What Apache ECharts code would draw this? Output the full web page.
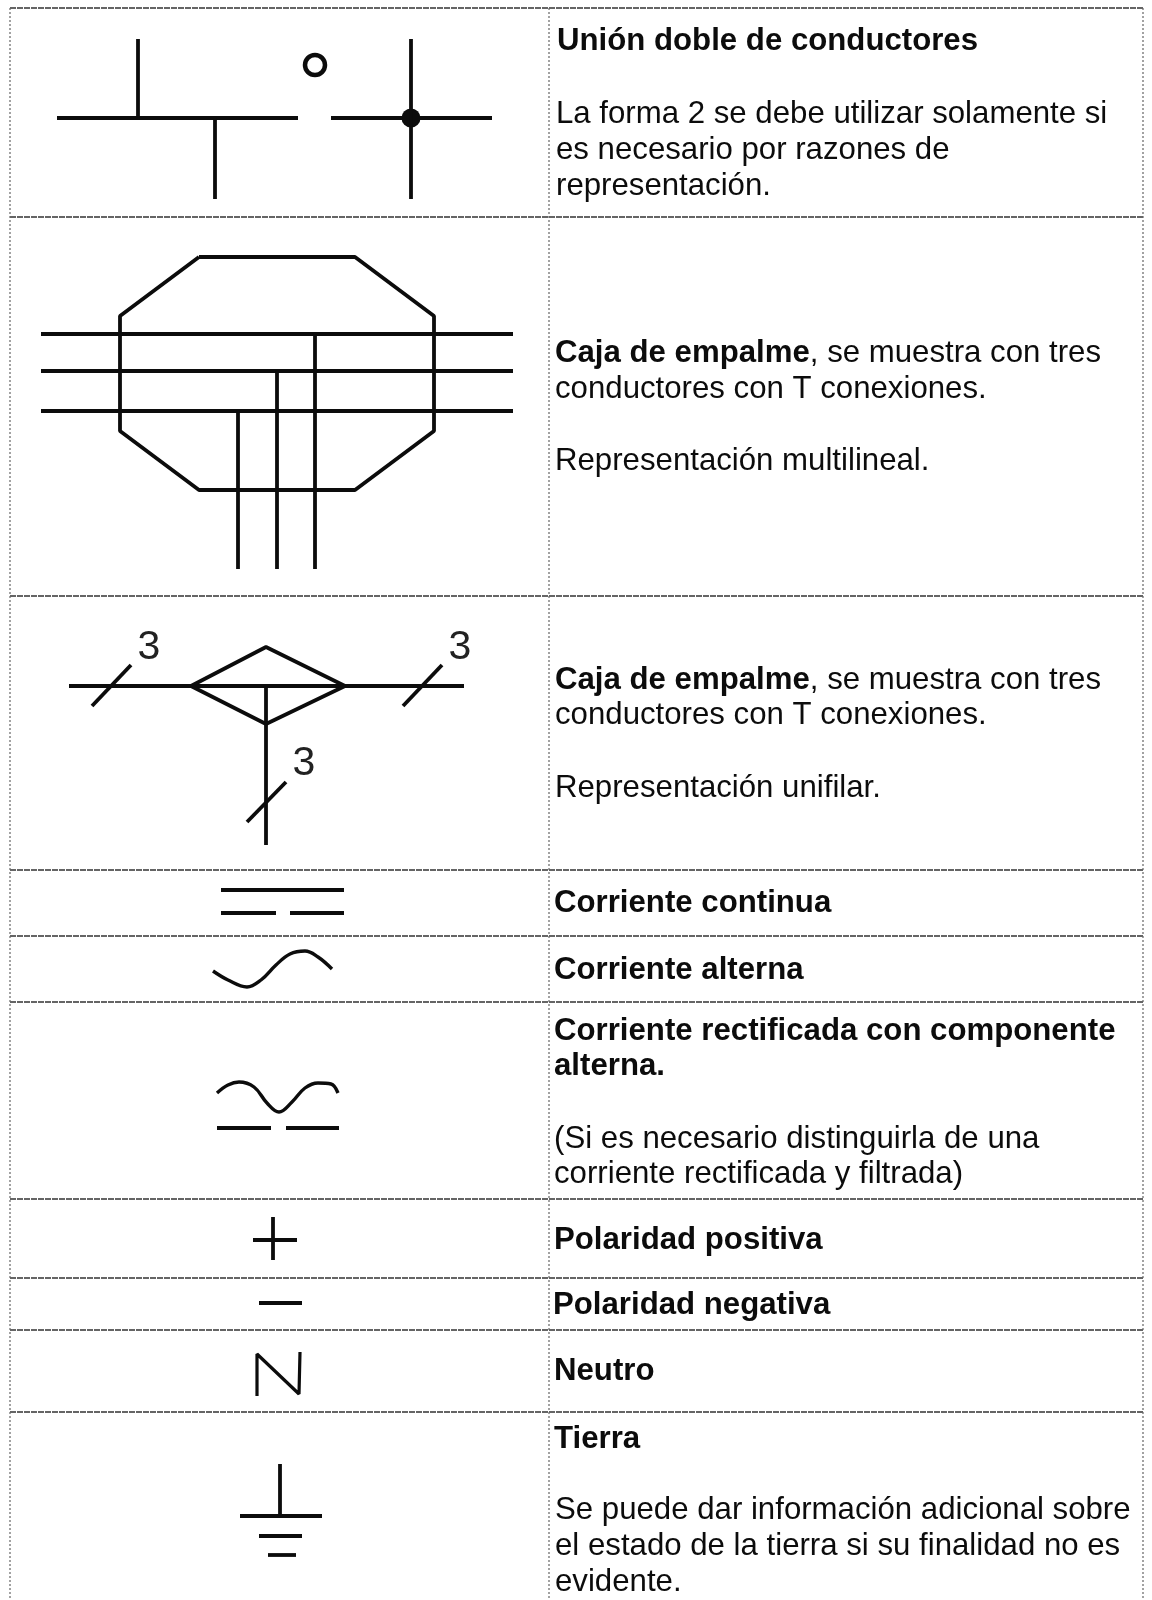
<!DOCTYPE html>
<html>
<head>
<meta charset="utf-8">
<style>
html, body { margin: 0; padding: 0; background: #fff; }
#main { width: 1152px; height: 1600px; }
</style>
<script src="https://cdn.jsdelivr.net/npm/echarts@6/dist/echarts.min.js"></script>
</head>
<body>
<div id="main"></div>
<script>
// table rules, in pixels of the page
const rowLines = [8, 217, 596, 870, 936, 1002, 1199, 1278, 1330, 1412]
const colLines = [10, 549, 1143]

// symbols: each entry is one stroke
const unionStrokes = [
  [[138, 39], [138, 118]],
  [[57, 118], [298, 118]],
  [[215, 118], [215, 199]],
  [[331, 118], [492, 118]],
  [[411, 39], [411, 199]]
]
const cajaStrokes = [
  [[199, 257], [355, 257], [434, 316], [434, 431], [355, 490], [199, 490], [120, 431], [120, 316], [199, 257]],
  [[41, 334], [513, 334]],
  [[41, 371], [513, 371]],
  [[41, 411], [513, 411]],
  [[315, 334], [315, 569]],
  [[277, 371], [277, 569]],
  [[238, 411], [238, 569]]
]
const unifilarStrokes = [
  [[69, 686], [464, 686]],
  [[191, 686], [266, 647], [345, 686], [266, 724], [191, 686]],
  [[266, 686], [266, 845]],
  [[92, 706], [131, 665]],
  [[403, 706], [442, 665]],
  [[247, 822], [286, 782]]
]
const continuaStrokes = [
  [[221, 890], [344, 890]],
  [[221, 913], [276, 913]],
  [[290, 913], [344, 913]]
]
const rectificadaBars = [
  [[217, 1128], [271, 1128]],
  [[286, 1128], [339, 1128]]
]
const polaridadStrokes = [
  [[253, 1240], [297, 1240]],
  [[273, 1217], [273, 1260]],
  [[259, 1303], [302, 1303]]
]
const neutroStrokes = [
  [[257, 1396], [257, 1354], [299, 1394], [300, 1352]]
]
const tierraStrokes = [
  [[280, 1464], [280, 1516]],
  [[240, 1516], [322, 1516]],
  [[259, 1536], [302, 1536]],
  [[268, 1555], [296, 1555]]
]
const alternaCurve = [[213, 971], [228, 980], [247, 987], [261, 980], [276, 965], [290, 954], [305, 951], [318, 957], [332, 969]]
const rectificadaCurve = [[217, 1093], [228, 1085], [239, 1082], [254, 1087], [267, 1103], [279, 1112], [292, 1102], [305, 1088], [318, 1083], [331, 1084], [338, 1093]]
const openNode = [[315, 65]]
const solidNode = [[411, 118]]

// the small 3 beside each slash
const threeLabels = [[149, 648], [460, 648], [304, 764]]

// text column
const textLines = [
  '{b|Unión doble de conductores}',
  'La forma 2 se debe utilizar solamente si',
  'es necesario por razones de',
  'representación.',
  '{b|Caja de empalme}, se muestra con tres',
  'conductores con T conexiones.',
  'Representación multilineal.',
  '{b|Caja de empalme}, se muestra con tres',
  'conductores con T conexiones.',
  'Representación unifilar.',
  '{b|Corriente continua}',
  '{b|Corriente alterna}',
  '{b|Corriente rectificada con componente}',
  '{b|alterna.}',
  '(Si es necesario distinguirla de una',
  'corriente rectificada y filtrada)',
  '{b|Polaridad positiva}',
  '{b|Polaridad negativa}',
  '{b|Neutro}',
  '{b|Tierra}',
  'Se puede dar información adicional sobre',
  'el estado de la tierra si su finalidad no es',
  'evidente.'
]
const textX = [557, 556, 556, 556, 555, 555, 555, 555, 555, 555, 554, 554, 554, 554, 554, 554, 554, 553, 554, 554, 555, 555, 555]
const textY = [41, 114, 150, 186, 353, 389, 461, 680, 715, 788, 903, 970, 1031, 1066, 1139, 1174, 1240, 1305, 1371, 1439, 1510, 1546, 1582]

const inkColor = '#0c0c0c'
const ruleColor = '#333'
const colRuleColor = '#666'

function strokeSeries(points, width, smooth) {
  return {
    type: 'line',
    data: points,
    symbol: 'none',
    smooth: smooth || false,
    silent: true,
    lineStyle: { color: inkColor, width: width }
  }
}

const rowSeries = rowLines.map(y => ({
  type: 'line',
  data: [[colLines[0], y], [colLines[2], y]],
  symbol: 'none',
  silent: true,
  lineStyle: { color: ruleColor, width: 1.5, type: [6, 1] }
}))
const colSeries = colLines.map(x => ({
  type: 'line',
  data: [[x, rowLines[0]], [x, 1600]],
  symbol: 'none',
  silent: true,
  lineStyle: { color: colRuleColor, width: 1.2, type: [2, 2] }
}))

const strokes = [].concat(
  unionStrokes, cajaStrokes, unifilarStrokes, continuaStrokes,
  rectificadaBars, polaridadStrokes, tierraStrokes
)

const myChart = echarts.init(document.getElementById('main'), null, { renderer: 'canvas' })
const option = {
  animation: false,
  backgroundColor: '#fff',
  grid: { left: 0, right: 0, top: 0, bottom: 0 },
  xAxis: { type: 'value', min: 0, max: 1152, show: false },
  yAxis: { type: 'value', min: 0, max: 1600, inverse: true, show: false },
  series: [].concat(
    rowSeries,
    colSeries,
    strokes.map(s => strokeSeries(s, 3.8)),
    neutroStrokes.map(s => strokeSeries(s, 3.2)),
    [strokeSeries(alternaCurve, 3.4, 0.4), strokeSeries(rectificadaCurve, 3.4, 0.4)],
    [
      {
        type: 'scatter',
        data: openNode,
        symbol: 'circle',
        symbolSize: 20,
        silent: true,
        itemStyle: { color: '#fff', borderColor: inkColor, borderWidth: 4.5, opacity: 1 }
      },
      {
        type: 'scatter',
        data: solidNode,
        symbol: 'circle',
        symbolSize: 19,
        silent: true,
        itemStyle: { color: inkColor, opacity: 1 }
      },
      {
        type: 'scatter',
        data: threeLabels,
        symbolSize: 0,
        silent: true,
        itemStyle: { opacity: 1 },
        label: {
          show: true,
          position: 'inside',
          formatter: '3',
          fontFamily: 'Liberation Sans',
          fontSize: 41,
          color: '#222'
        }
      },
      {
        type: 'scatter',
        data: textLines.map((t, i) => ({ value: [textX[i], textY[i]], text: t })),
        symbolSize: 0,
        silent: true,
        itemStyle: { opacity: 1 },
        label: {
          show: true,
          position: 'right',
          distance: 0,
          formatter: p => p.data.text,
          fontFamily: 'Liberation Sans',
          fontSize: 31.2,
          color: '#0c0c0c',
          rich: {
            b: {
              fontFamily: 'Liberation Sans',
              fontWeight: 'bold',
              fontSize: 31.2,
              color: '#0c0c0c'
            }
          }
        }
      }
    ]
  )
}
myChart.setOption(option)
</script>
</body>
</html>
